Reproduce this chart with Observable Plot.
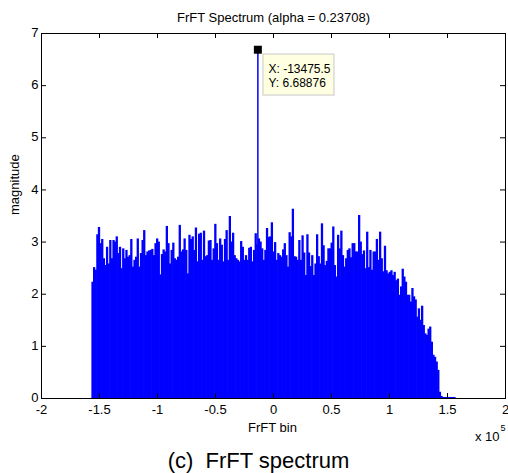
<!DOCTYPE html>
<html>
<head>
<meta charset="utf-8">
<script src="https://cdn.jsdelivr.net/npm/d3@7"></script>
<script src="https://cdn.jsdelivr.net/npm/@observablehq/plot@0.6"></script>
<style>
  html, body { margin: 0; padding: 0; background: #ffffff; }
  #chart svg { display: block; }
</style>
</head>
<body>
<div id="chart"></div>
<script>
// ---- Data ----
const chartTitle = "FrFT Spectrum (alpha = 0.23708)";
const xLabel = "FrFT bin";
const yLabel = "magnitude";
const xExponent = "5";
const caption = "(c)  FrFT spectrum";

// FrFT bin grid: first and last bin shown
const binStart = -156000;
const binEnd = 156000;

// magnitude envelope (spike tops), left to right across the bins
const magnitude = [
  2.23, 2.51, 2.46, 3.14, 3.28, 2.97, 3.05, 2.68, 2.55, 2.90, 2.58, 3.03, 2.68, 3.03, 3.00, 3.10, 2.78, 2.90,
  2.49, 2.87, 2.68, 2.84, 2.71, 2.74, 3.05, 2.52, 2.65, 2.71, 3.06, 2.52, 2.78, 3.03, 3.22, 2.74, 2.81, 2.83,
  2.84, 2.86, 2.74, 2.97, 3.06, 3.00, 2.37, 2.76, 2.85, 2.81, 3.30, 2.97, 2.58, 2.84, 2.98, 2.68, 2.65, 2.71,
  3.32, 2.81, 2.85, 3.06, 2.84, 2.39, 3.13, 3.05, 3.10, 2.84, 3.27, 2.62, 3.15, 3.17, 2.65, 3.21, 2.72, 2.74, 3.02,
  3.03, 2.65, 2.87, 3.34, 2.97, 2.65, 3.06, 2.94, 2.62, 3.05, 3.22, 2.65, 3.49, 3.00, 3.17, 2.74, 2.68, 2.65,
  2.62, 3.01, 2.90, 2.65, 2.74, 2.65, 2.88, 2.90, 2.62, 2.84, 3.16, 2.95, 3.06, 3.00, 2.87, 2.65, 2.84, 3.26, 3.09,
  3.10, 3.37, 2.81, 2.99, 2.65, 2.78, 2.74, 2.71, 2.85, 2.97, 2.74, 2.52, 3.18, 3.10, 3.63, 2.72, 2.71, 2.65,
  3.03, 2.65, 3.12, 2.79, 2.36, 3.14, 2.79, 2.53, 2.74, 2.36, 2.58, 3.14, 2.72, 2.58, 3.35, 2.93, 2.55, 2.63, 2.87,
  2.87, 2.98, 3.29, 2.55, 2.33, 3.13, 2.87, 3.21, 2.74, 2.52, 2.68, 2.84, 2.87, 2.70, 2.97, 2.97, 2.81, 2.81,
  3.51, 3.00, 2.76, 2.83, 2.49, 3.19, 2.51, 2.84, 2.46, 2.81, 2.81, 3.05, 2.65, 3.19, 2.68, 2.43, 2.92, 2.45, 2.39,
  2.42, 2.45, 2.36, 2.42, 2.26, 2.29, 1.98, 2.14, 2.48, 2.33, 2.23, 1.98, 1.98, 1.85, 2.11, 1.95, 1.89,
  1.56, 1.72, 1.50, 1.77, 1.40, 1.24, 1.21, 1.33, 1.37, 1.08, 0.83, 0.79, 0.70, 0.54, 0.12, 0.04,
  0.02, 0.02, 0.02, 0.02, 0.02, 0.02, 0.02, 0.02
];

// the data-tip peak
const peakX = -13475.5;
const peakY = 6.68876;

// ticks
const xTicks = [-200000, -150000, -100000, -50000, 0, 50000, 100000, 150000, 200000];
const xTickLabels = ["-2", "-1.5", "-1", "-0.5", "0", "0.5", "1", "1.5", "2"];
const yTicks = [0, 1, 2, 3, 4, 5, 6, 7];
const yTickLabels = ["0", "1", "2", "3", "4", "5", "6", "7"];

// ---- Build table ----
const step = (binEnd - binStart) / (magnitude.length - 1);
const spectrum = magnitude.map((m, i) => ({x: binStart + i * step, y: m}));
const peak = {x: peakX, y: peakY};

const font = "'Liberation Sans', Arial, Helvetica, sans-serif";
const frameW = 508 - 41 - 3;
const frameH = 473 - 33 - 75;
const tickLen = 5;

const chart = Plot.plot({
  width: 508,
  height: 473,
  marginTop: 33,
  marginBottom: 75,
  marginLeft: 41,
  marginRight: 3,
  style: {fontFamily: font, fontSize: "13px", background: "#ffffff", color: "#000000"},
  x: {domain: [-200000, 200000], axis: null},
  y: {domain: [0, 7], axis: null},
  marks: [
    Plot.ruleX(spectrum, {x: "x", y1: 0, y2: "y", stroke: "#0000ff", strokeWidth: 2.3}),
    Plot.ruleX([peak], {x: "x", y1: 0, y2: "y", stroke: "#0000ff", strokeWidth: 1.5}),
    Plot.frame({stroke: "#000000", strokeWidth: 1}),
    // inward ticks
    Plot.ruleX(xTicks, {x: d => d, insetTop: frameH - tickLen, stroke: "#000000"}),
    Plot.ruleX(xTicks, {x: d => d, insetBottom: frameH - tickLen, stroke: "#000000"}),
    Plot.ruleY(yTicks, {y: d => d, insetRight: frameW - tickLen, stroke: "#000000"}),
    Plot.ruleY(yTicks, {y: d => d, insetLeft: frameW - tickLen, stroke: "#000000"}),
    // tick labels
    Plot.text(xTicks, {x: d => d, text: (d, i) => xTickLabels[i], frameAnchor: "bottom", lineAnchor: "top", dy: 6.5, fontSize: 13, fill: "#000000"}),
    Plot.text(yTicks, {y: d => d, text: (d, i) => yTickLabels[i], frameAnchor: "left", textAnchor: "end", lineAnchor: "middle", dx: -3, dy: -0.5, fontSize: 13, fill: "#000000"}),
    // labels
    Plot.text([chartTitle], {text: d => d, frameAnchor: "top", lineAnchor: "bottom", dy: -11.5, fontSize: 13, fill: "#000000"}),
    Plot.text([xLabel], {text: d => d, frameAnchor: "bottom", lineAnchor: "middle", dy: 29.5, dx: -1, fontSize: 13, fill: "#000000"}),
    Plot.text([yLabel], {text: d => d, frameAnchor: "left", rotate: -90, lineAnchor: "middle", dx: -27, dy: -1, fontSize: 13, fill: "#000000"}),
    Plot.text(["x 10"], {text: d => d, frameAnchor: "bottom-right", textAnchor: "end", lineAnchor: "bottom", dx: -6, dy: 42, fontSize: 13, fill: "#000000"}),
    Plot.text([xExponent], {text: d => d, frameAnchor: "bottom-right", textAnchor: "start", lineAnchor: "bottom", dx: -5, dy: 32, fontSize: 9, fill: "#000000"}),
    Plot.text([caption], {text: d => d, frameAnchor: "bottom", lineAnchor: "bottom", dx: -15, dy: 69, fontSize: 22, fill: "#000000"}),
    // data tip
    Plot.rect([peak], {x1: "x", x2: "x", y1: "y", y2: "y", insetLeft: 0, insetRight: -71, insetTop: 0, insetBottom: -41, dx: 5.6, dy: 4.8, fill: "#ffffe1", stroke: "#c8c8c8", strokeWidth: 1}),
    Plot.text([peak], {x: "x", y: "y", text: d => `X: ${d.x}\nY: ${d.y}`, textAnchor: "start", lineAnchor: "top", lineHeight: 1.17, dx: 10.6, dy: 13, fontSize: 12, fill: "#000000"}),
    Plot.dot([peak], {x: "x", y: "y", symbol: "square", r: 4.5, fill: "#000000", stroke: "none"})
  ]
});

document.getElementById("chart").appendChild(chart);
</script>
</body>
</html>
